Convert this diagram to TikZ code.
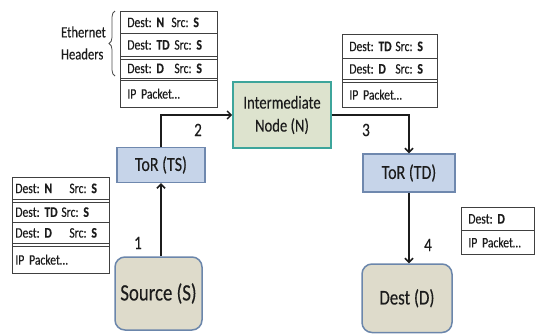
\documentclass[tikz,border=0pt]{standalone}
\usepackage{fontspec}
\setmainfont{Carlito}[FakeStretch=0.8,UprightFeatures={FakeBold=0.2},
  BoldFeatures={FakeBold=0.6}]
\usetikzlibrary{arrows.meta,decorations.pathreplacing}
\frenchspacing

\definecolor{torfill}{HTML}{C6D4E9}
\definecolor{torline}{HTML}{6F88AE}
\definecolor{interfill}{HTML}{DDE3CE}
\definecolor{interline}{HTML}{3DA59B}
\definecolor{endfill}{HTML}{DEDBCB}
\definecolor{endline}{HTML}{6B86AB}
\definecolor{ink}{HTML}{1C1C1C}

\begin{document}
\begin{tikzpicture}[x=1pt,y=-1pt,
  every node/.style={text=ink},
  tor/.style={draw=torline,fill=torfill,line width=1.4pt,minimum width=88pt,
    minimum height=35pt,inner sep=0pt,font=\fontsize{20}{22}\selectfont},
  inter/.style={draw=interline,fill=interfill,line width=1.6pt,minimum width=98pt,
    minimum height=66pt,inner sep=0pt,align=center,font=\fontsize{18.3}{23}\selectfont},
  endpt/.style={draw=endline,fill=endfill,line width=1.5pt,rounded corners=10pt,
    inner sep=0pt},
  hdr/.style={draw=black!75,line width=0.8pt,anchor=north west,inner ysep=0pt,
    inner xsep=7pt,align=left,font=\fontsize{14.5}{15}\selectfont},
  hdrline/.style={draw=black!75,line width=0.9pt},
  link/.style={draw=ink,line width=1.5pt,-{Straight Barb[length=4pt,width=8pt]}},
  num/.style={font=\fontsize{19}{21}\selectfont,inner sep=0pt}]

\useasboundingbox (0,0) rectangle (536,333);

% network elements
\node[endpt,minimum width=87pt,minimum height=73pt,font=\fontsize{23.5}{25}\selectfont]
  (src) at (158.5,293.5) {Source (S)};
\node[tor] (tors) at (161,165) {ToR (TS)};
\node[inter] (inter) at (282,115) {Intermediate\\Node (N)};
\node[tor,minimum width=92pt,minimum height=38pt] (tord) at (409,173) {ToR (TD)};
\node[endpt,minimum width=90pt,minimum height=68.5pt,font=\fontsize{21}{23}\selectfont]
  (dst) at (407,298.25) {Dest (D)};

% links
\draw[link] (src.north -| tors.south) -- (tors.south);
\draw[link] (tors.north) |- (inter.west);
\draw[link] (inter.east) -| (tord.north);
\draw[link] (tord.south) -- (dst.north -| tord.south);

\node[num] (n1) at (138,243) {1};
\node[num] (n2) at (198,130) {2};
\node[num] (n3) at (366,130) {3};
\node[num] (n4) at (428,245) {4};

% header stack at the top left
\node[hdr,text width=83pt,minimum height=22pt] (tlN) at (120,11)
  {\makebox[44pt][l]{Dest: \textbf{N}}Src: \textbf{S}};
\node[hdr,text width=83pt,minimum height=23pt] (tlTD) at (120,33)
  {\makebox[47pt][l]{Dest: \textbf{TD}}Src: \textbf{S}};
\node[hdr,text width=83pt,minimum height=19pt] (tlD) at (120,58.5)
  {\makebox[47pt][l]{Dest: \textbf{D}}Src: \textbf{S}};
\node[hdr,text width=83pt,minimum height=26.5pt] (tlIP) at (120,80)
  {IP Packet…};
\draw[hdrline] (tlN.north west) rectangle (tlIP.south east);

\node[align=left,font=\fontsize{15.8}{22}\selectfont,anchor=east,inner sep=0pt] (eth)
  at (106,43) {Ethernet\\Headers};
\draw[line width=0.8pt,black!70,decorate,decoration={brace,amplitude=6pt}]
  (115,76) -- (115,11);

% header stack at the top right
\node[hdr,text width=81pt,minimum height=24pt] (trTD) at (342,34)
  {\makebox[46pt][l]{Dest: \textbf{TD}}Src: \textbf{S}};
\node[hdr,text width=81pt,minimum height=21pt] (trD) at (342,58)
  {\makebox[46pt][l]{Dest: \textbf{D}}Src: \textbf{S}};
\node[hdr,text width=81pt,minimum height=25.5pt] (trIP) at (342,81.5)
  {IP Packet…};
\draw[hdrline] (trTD.north west) rectangle (trIP.south east);

% header stack at the bottom left
\node[hdr,inner xsep=3pt,text width=91pt,minimum height=22pt] (blN) at (12,177)
  {\makebox[54pt][l]{Dest: \textbf{N}}Src: \textbf{S}};
\node[hdr,inner xsep=3pt,text width=91pt,minimum height=20.5pt] (blTD) at (12,201.5)
  {\makebox[46pt][l]{Dest: \textbf{TD}}Src: \textbf{S}};
\node[hdr,inner xsep=3pt,text width=91pt,minimum height=21pt] (blD) at (12,222)
  {\makebox[54pt][l]{Dest: \textbf{D}}Src: \textbf{S}};
\node[hdr,inner xsep=3pt,text width=91pt,minimum height=27.5pt] (blIP) at (12,245.5)
  {IP Packet…};
\draw[hdrline] (blN.north west) rectangle (blIP.south east);

% header stack at the bottom right
\node[hdr,inner xsep=7pt,text width=59pt,minimum height=23pt] (brD) at (461,207)
  {Dest: \textbf{D}};
\node[hdr,inner xsep=7pt,text width=59pt,minimum height=24pt] (brIP) at (461,230)
  {IP Packet…};
\draw[hdrline] (brD.north west) rectangle (brIP.south east);

\end{tikzpicture}
\end{document}
